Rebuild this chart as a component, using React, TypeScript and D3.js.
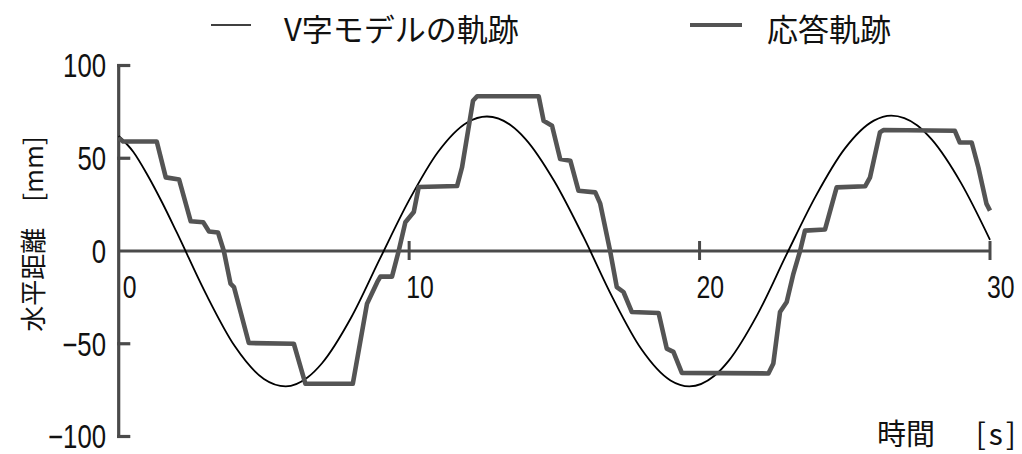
import React from "react";
import * as d3 from "d3";

// V字モデルの軌跡 (reference trajectory): time [s] / horizontal distance [mm]
const modelT = [0, 0.5, 1, 1.5, 2, 3, 4, 5, 5.75, 6.5, 7, 8, 9, 10, 11, 12, 12.68, 13.5, 14, 15, 16, 17, 18, 19, 19.65, 20.5, 21, 22, 23, 24, 25, 26, 26.6, 27.5, 28, 29, 30];
const modelV = [62, 53.5, 40.7, 26, 10, -23, -51.4, -69, -73, -68.2, -60.5, -36, -4, 27.4, 53.5, 69.3, 72.5, 67.8, 60.5, 37.6, 7.7, -25, -53, -69.8, -73, -67.4, -59.2, -34, -1.7, 29.6, 55.2, 70.3, 73, 67.7, 60, 36.7, 6];

// 応答軌跡 (measured response): time [s] / horizontal distance [mm]
const respT = [0, 0.15, 1.31, 1.62, 2.08, 2.48, 2.91, 3.11, 3.42, 3.62, 3.85, 3.97, 4.48, 6.03, 6.43, 8.06, 8.55, 8.9, 9.01, 9.41, 9.64, 9.87, 10.16, 10.33, 11.65, 11.82, 12.2, 12.34, 14.46, 14.63, 14.92, 15.2, 15.55, 15.83, 16.41, 16.58, 16.92, 17.15, 17.38, 17.67, 18.59, 18.87, 19.1, 19.39, 22.37, 22.54, 22.77, 23.0, 23.23, 23.46, 23.63, 24.32, 24.72, 25.7, 25.87, 26.21, 26.33, 28.79, 28.96, 29.37, 29.6, 29.88, 30.0];
const respV = [61, 59, 59, 39.7, 38.5, 16, 15.5, 10.5, 10, 0, -17.6, -19.5, -49.6, -50, -71.6, -71.6, -28.4, -16.8, -13.8, -13.8, 0, 15.5, 21, 34.5, 35, 45, 81, 83.4, 83.4, 70.2, 67.5, 49.6, 48.7, 32.5, 31.6, 25.5, 0, -19.5, -22.1, -32.9, -33.4, -52.6, -54.4, -65.7, -66, -60.6, -32.9, -27.5, -12.3, 0, 11, 11.6, 34.3, 34.9, 39.7, 63.9, 65.2, 64.8, 58.5, 58.5, 45, 25.4, 21.8];

const xTicks = [10, 20, 30];
const xTickLabels = [0, 10, 20, 30];
const yTicks = [100, 50, -50, -100];
const yTickLabels = [100, 50, 0, -50, -100];

const legendItems = ["V字モデルの軌跡", "応答軌跡"];
const yTitle = "水平距離　[mm]";
const xTitleName = "時間";
const xTitleUnit = "[s]";

const W = 1022;
const H = 454;
const JP = "'Noto Sans CJK JP', 'Noto Sans', sans-serif";
const NUM = "'Liberation Sans', Arial, sans-serif";
const AXIS = "#4a4a4a";
const RESP = "#545454";

const fmt = (v: number) => (v < 0 ? "\u2212" + Math.abs(v) : String(v));

export default function App() {
  const x = d3.scaleLinear().domain([0, 30]).range([118.7, 990]);
  const y = d3.scaleLinear().domain([-100, 100]).range([436.5, 65.5]);

  const modelPath = d3
    .line<[number, number]>()
    .x((d) => x(d[0]))
    .y((d) => y(d[1]))
    .curve(d3.curveMonotoneX)(modelT.map((t, i) => [t, modelV[i]] as [number, number]));
  const respPath = d3
    .line<[number, number]>()
    .x((d) => x(d[0]))
    .y((d) => y(d[1]))
    .curve(d3.curveLinear)(respT.map((t, i) => [t, respV[i]] as [number, number]));

  const x0 = x(0);
  const y0 = y(0);
  const ySize = 33;
  const xSize = 31;

  return (
    <svg
      width={W}
      height={H}
      viewBox={`0 0 ${W} ${H}`}
      style={{ position: "absolute", left: 0, top: 0, background: "#fff" }}
    >
      <rect x={0} y={0} width={W} height={H} fill="#fff" />

      {/* legend */}
      <line x1={211} x2={251} y1={25} y2={25} stroke="#000" strokeWidth={1.6} />
      <text x={284} y={27} fontFamily={JP} fontSize={31} dominantBaseline="central" fill="#111">
        {legendItems[0]}
      </text>
      <line x1={690} x2={742} y1={25} y2={25} stroke={RESP} strokeWidth={4.2} />
      <text x={767} y={27} fontFamily={JP} fontSize={31} dominantBaseline="central" fill="#111">
        {legendItems[1]}
      </text>

      {/* y axis */}
      <line x1={x0} x2={x0} y1={y(100)} y2={y(-100)} stroke={AXIS} strokeWidth={3.2} strokeLinecap="square" />
      {yTicks.map((t) => (
        <line key={"yt" + t} x1={x0} x2={x0 + 10} y1={y(t)} y2={y(t)} stroke={AXIS} strokeWidth={3.2} strokeLinecap="square" />
      ))}
      {yTickLabels.map((t) => (
        <text
          key={"yl" + t}
          transform={`translate(106,${y(t) + ySize * 0.36}) scale(0.78,1)`}
          fontFamily={NUM}
          fontSize={ySize}
          textAnchor="end"
          fill="#111"
        >
          {fmt(t)}
        </text>
      ))}

      {/* x axis at zero */}
      <line x1={x0} x2={x(30)} y1={y0} y2={y0} stroke={AXIS} strokeWidth={3} />
      {xTicks.map((t) => (
        <line key={"xt" + t} x1={x(t)} x2={x(t)} y1={y0 - 10} y2={y0 + 9} stroke={AXIS} strokeWidth={3} />
      ))}
      {xTickLabels.map((t) => (
        <text
          key={"xl" + t}
          transform={`translate(${Math.max(x(t) - 3, x0 + 4)},298) scale(0.8,1)`}
          fontFamily={NUM}
          fontSize={xSize}
          fill="#111"
        >
          {t}
        </text>
      ))}

      {/* series */}
      <path d={modelPath ?? ""} fill="none" stroke="#000" strokeWidth={1.8} />
      <path d={respPath ?? ""} fill="none" stroke={RESP} strokeWidth={4.6} strokeLinejoin="round" />

      {/* axis titles */}
      <text
        transform="translate(31,234) rotate(-90)"
        fontFamily={JP}
        fontSize={26}
        textAnchor="middle"
        dominantBaseline="central"
        fill="#111"
      >
        {yTitle}
      </text>
      <text x={877} y={445} fontFamily={JP} fontSize={29} fill="#111">
        {xTitleName}
      </text>
      <text x={1019} y={445} fontFamily={JP} fontSize={30} textAnchor="end" letterSpacing={3} fill="#111">
        {xTitleUnit}
      </text>
    </svg>
  );
}
